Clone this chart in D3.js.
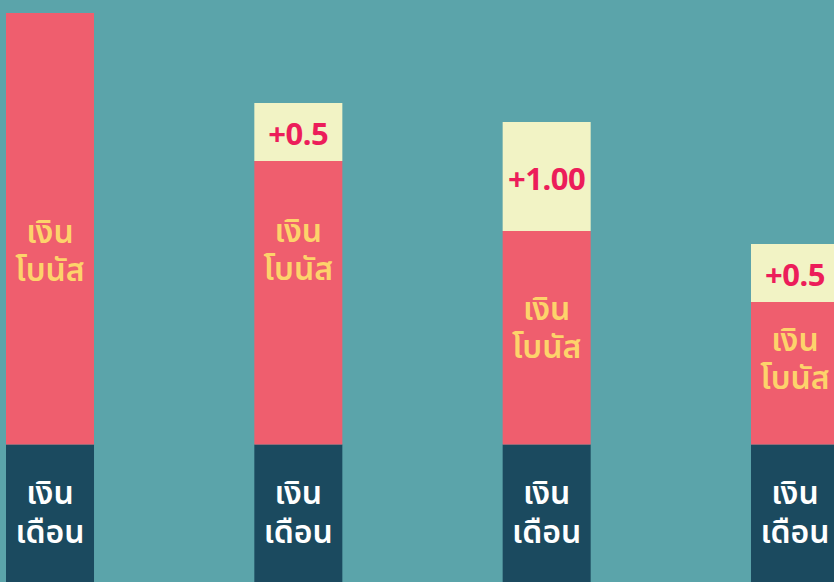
<!DOCTYPE html>
<html>
<head>
<meta charset="utf-8">
<script src="https://cdn.jsdelivr.net/npm/d3@7"></script>
<style>
  html, body { margin: 0; padding: 0; background: #5ba4aa; }
  svg { display: block; }
</style>
</head>
<body>
<svg id="chart"></svg>
<script>
let width = 834, height = 582;

// data (1 unit ~ 100px)
let bars = ["a", "b", "c", "d"];
let salary = [1.375, 1.375, 1.375, 1.375];
let bonus = [4.315, 2.835, 2.135, 1.425];
let extra = [0, 0.58, 1.09, 0.58];
let extraLabels = ["", "+0.5", "+1.00", "+0.5"];
let salaryLabel = ["เงิน", "เดือน"];
let bonusLabel = ["เงิน", "โบนัส"];

// label nudges (px, relative to the bonus segment centre)
let bonusNudge = [24, -51, -8, -12];

let svg = d3.select('#chart')
    .attr('width', width)
    .attr('height', height);

svg.append('rect')
    .attr('width', width).attr('height', height)
    .attr('fill', '#5ba4aa');

let x = d3.scaleBand()
    .domain(bars)
    .range([6, 839])
    .paddingInner(0.6456)
    .paddingOuter(0);

let y = d3.scaleLinear()
    .domain([0, 5.69])
    .range([582, 13]);

let rows = bars.map((b, i) => ({
    key: b, i: i,
    s: salary[i], b: bonus[i], e: extra[i], label: extraLabels[i]
}));

let g = svg.selectAll('g.bar')
    .data(rows)
    .enter().append('g')
    .attr('class', 'bar')
    .attr('transform', d => 'translate(' + x(d.key) + ',0)');

let bw = x.bandwidth();

// salary
g.append('rect')
    .attr('width', bw)
    .attr('y', d => y(d.s))
    .attr('height', d => y(0) - y(d.s) + 10)
    .attr('fill', '#1b4a5f');

// bonus
g.append('rect')
    .attr('width', bw)
    .attr('y', d => y(d.s + d.b))
    .attr('height', d => y(d.s) - y(d.s + d.b))
    .attr('fill', '#ef5e6e');

// extra
g.filter(d => d.e > 0).append('rect')
    .attr('width', bw)
    .attr('y', d => y(d.s + d.b + d.e))
    .attr('height', d => y(d.s + d.b) - y(d.s + d.b + d.e))
    .attr('fill', '#f2f3c5');

let thai = "'Noto Sans Thai', 'Noto Sans', 'DejaVu Sans', sans-serif";

// two-line labels as one text with tspans
let salaryText = g.append('text')
    .attr('text-anchor', 'middle')
    .attr('font-family', thai)
    .attr('font-size', 32)
    .attr('font-weight', 600)
    .attr('fill', '#ffffff');
salaryLabel.forEach((t, k) => {
    salaryText.append('tspan')
        .attr('x', bw / 2)
        .attr('y', d => y(d.s) + 59 + k * 39)
        .text(t);
});

let bonusText = g.append('text')
    .attr('text-anchor', 'middle')
    .attr('font-family', thai)
    .attr('font-size', 32)
    .attr('font-weight', 600)
    .attr('fill', '#fdd36b');
bonusLabel.forEach((t, k) => {
    bonusText.append('tspan')
        .attr('x', bw / 2)
        .attr('y', d => (y(d.s) + y(d.s + d.b)) / 2 + bonusNudge[d.i] - 10 + k * 38)
        .text(t);
});

// extra labels
g.filter(d => d.e > 0).append('text')
    .attr('x', bw / 2)
    .attr('y', d => (y(d.s + d.b) + y(d.s + d.b + d.e)) / 2 + 13)
    .attr('text-anchor', 'middle')
    .attr('font-family', "'Noto Sans', sans-serif")
    .attr('font-size', 31)
    .attr('font-weight', 700)
    .attr('fill', '#ec1d5a')
    .attr('letter-spacing', -0.5)
    .text(d => d.label);
</script>
</body>
</html>
